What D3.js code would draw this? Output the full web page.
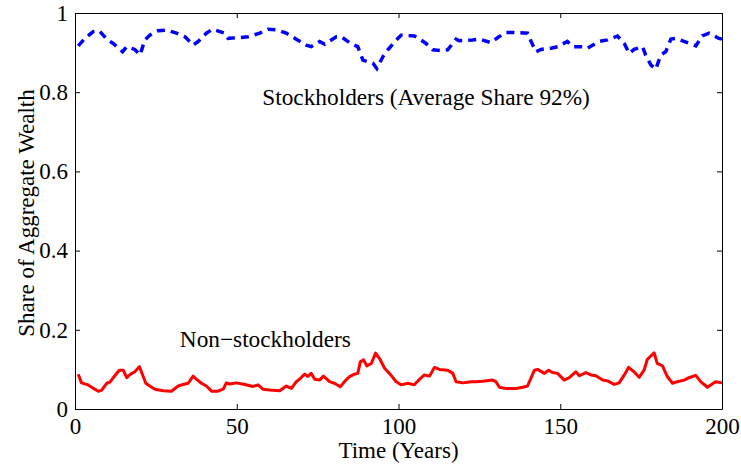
<!DOCTYPE html>
<html>
<head>
<meta charset="utf-8">
<script src="https://cdn.jsdelivr.net/npm/d3@7"></script>
<style>
  body { margin: 0; background: #fff; }
  svg { display: block; }
</style>
</head>
<body>
<div id="chart"></div>
<script>
// wealth shares

const stockYears = [1, 3.1, 5.6, 7.5, 9.8, 11.8, 14.7, 16, 18.5, 20.1, 21.6, 23.1, 25.7, 28.3, 31.4, 34, 36.5, 38.1, 40.6, 42.5,
  46.3, 47.3, 50.9, 53.5, 57.1, 59.7, 62.7, 65.3, 68.4, 71.5, 73, 75.6, 77.2, 80.8, 82.3, 85.4, 87.4, 89, 92.1, 93.3,
  95.2, 96.7, 99.3, 100.8, 104.9, 106, 108.5, 110.6, 113.2, 115.2, 117.8, 118.8, 122.9, 125, 128.6, 130.7, 133.2, 135.8, 139.9, 141,
  142.5, 144.1, 147.1, 149.2, 152.2, 153.8, 156.9, 158.4, 162, 164.6, 167.7, 169.8, 171.3, 172.8, 175.4, 176.4, 178, 179.5, 181.1, 182.6,
  184.2, 185.7, 189.3, 191.9, 193.9, 196, 199, 200];
const stockShares = [0.917, 0.936, 0.953, 0.955, 0.934, 0.923, 0.902, 0.915, 0.908, 0.894, 0.932, 0.944, 0.955, 0.957, 0.949, 0.940, 0.919, 0.928, 0.949, 0.959,
  0.949, 0.936, 0.938, 0.940, 0.949, 0.959, 0.957, 0.949, 0.934, 0.919, 0.915, 0.928, 0.921, 0.940, 0.940, 0.922, 0.915, 0.881, 0.873, 0.860,
  0.890, 0.907, 0.932, 0.944, 0.942, 0.937, 0.923, 0.907, 0.905, 0.907, 0.934, 0.930, 0.932, 0.934, 0.925, 0.938, 0.951, 0.951, 0.949, 0.928,
  0.902, 0.908, 0.911, 0.915, 0.928, 0.915, 0.915, 0.911, 0.928, 0.932, 0.942, 0.923, 0.898, 0.908, 0.915, 0.894, 0.869, 0.858, 0.894, 0.902,
  0.934, 0.936, 0.925, 0.917, 0.942, 0.949, 0.936, 0.934];

const nonYears = [1, 2, 4, 5.7, 7.2, 8.2, 9.8, 10.8, 12.3, 13.7, 14.9, 16, 17.2, 18.5, 19.9, 20.9, 21.9, 23.1, 24.7, 27.3,
  29.8, 31.9, 33.4, 35, 36.5, 37.6, 39.1, 40.6, 42.2, 44.2, 45.8, 46.8, 47.8, 49.9, 52.5, 55, 56.6, 58.1, 60.2, 63.3,
  65.3, 66.9, 68.4, 69.4, 71, 72, 73, 74.1, 75.6, 76.8, 78.7, 80.2, 82, 83.3, 84.9, 86.4, 87.4, 88.2, 89.2, 90.2,
  91.6, 92.9, 94.1, 95.7, 97.2, 99.3, 100.8, 102.9, 104.9, 106.5, 108, 109.6, 111.1, 112.7, 115.2, 116.8, 117.8, 119.9, 122.4, 124,
  126, 129.1, 130.1, 131.2, 133.2, 136.3, 138.4, 139.9, 142, 143, 145.1, 146.4, 147.6, 149.2, 151.2, 152.8, 154.8, 155.9, 157.9, 159.5,
  161, 163.1, 164.6, 166.7, 168.2, 169.8, 171.1, 172.8, 174.4, 175.9, 176.9, 178, 179, 180, 181.6, 183.1, 184.7, 186.2, 188.3, 189.8,
  191.9, 193.4, 195.5, 198, 200];
const nonShares = [0.088, 0.066, 0.061, 0.052, 0.045, 0.047, 0.065, 0.068, 0.084, 0.098, 0.098, 0.079, 0.088, 0.094, 0.107, 0.086, 0.065, 0.058, 0.050, 0.046,
  0.045, 0.058, 0.062, 0.065, 0.083, 0.075, 0.065, 0.058, 0.045, 0.045, 0.050, 0.066, 0.063, 0.066, 0.062, 0.057, 0.061, 0.050, 0.048, 0.046,
  0.058, 0.052, 0.069, 0.075, 0.088, 0.082, 0.090, 0.075, 0.073, 0.083, 0.069, 0.065, 0.056, 0.069, 0.082, 0.088, 0.090, 0.119, 0.124, 0.109,
  0.115, 0.141, 0.128, 0.103, 0.090, 0.069, 0.061, 0.065, 0.061, 0.075, 0.086, 0.083, 0.105, 0.100, 0.098, 0.090, 0.069, 0.066, 0.069, 0.069,
  0.070, 0.073, 0.069, 0.055, 0.052, 0.052, 0.055, 0.058, 0.098, 0.100, 0.090, 0.098, 0.092, 0.090, 0.073, 0.079, 0.094, 0.084, 0.092, 0.086,
  0.084, 0.073, 0.071, 0.062, 0.066, 0.086, 0.105, 0.094, 0.080, 0.098, 0.125, 0.134, 0.142, 0.115, 0.109, 0.082, 0.065, 0.069, 0.073, 0.079,
  0.085, 0.069, 0.055, 0.069, 0.066];

const xTicks = [0, 50, 100, 150, 200];
const yTicks = [0, 0.2, 0.4, 0.6, 0.8, 1];

const width = 741, height = 464;
const margin = { top: 13, right: 19, bottom: 55, left: 75 };
const font = "'Liberation Serif', 'Times New Roman', serif";
const fs = 23;

const svg = d3.select("#chart").append("svg")
  .attr("width", width)
  .attr("height", height)
  .attr("font-family", font);

const x = d3.scaleLinear().domain([0, 200]).range([margin.left, width - margin.right]);
const y = d3.scaleLinear().domain([0, 1]).range([height - margin.bottom, margin.top]);

// axes, ticks pointing inward on all four sides
function styleAxis(g) {
  g.selectAll("path.domain").attr("stroke", "#000").attr("stroke-width", 1);
  g.selectAll(".tick line").attr("stroke", "#000");
  g.selectAll(".tick text").attr("font-size", fs).attr("font-family", font).attr("fill", "#000");
}

svg.append("g")
  .attr("transform", `translate(0,${y(0)})`)
  .call(d3.axisBottom(x).tickValues(xTicks).tickSizeInner(-5).tickSizeOuter(0).tickPadding(9).tickFormat(d3.format("d")))
  .call(styleAxis);

svg.append("g")
  .attr("transform", `translate(0,${y(1)})`)
  .call(d3.axisTop(x).tickValues(xTicks).tickSizeInner(-5).tickSizeOuter(0).tickFormat(""))
  .call(styleAxis);

svg.append("g")
  .attr("transform", `translate(${x(0)},0)`)
  .call(d3.axisLeft(y).tickValues(yTicks).tickSizeInner(-5).tickSizeOuter(0).tickPadding(7).tickFormat(d3.format("~g")))
  .call(styleAxis);

svg.append("g")
  .attr("transform", `translate(${x(200)},0)`)
  .call(d3.axisRight(y).tickValues(yTicks).tickSizeInner(-5).tickSizeOuter(0).tickFormat(""))
  .call(styleAxis);

// lines
const line = d3.line().x(d => x(d[0])).y(d => y(d[1]));

svg.append("path")
  .datum(d3.zip(stockYears, stockShares))
  .attr("fill", "none")
  .attr("stroke", "#0000ff")
  .attr("stroke-width", 3.5)
  .attr("stroke-dasharray", "8,6")
  .attr("d", line);

svg.append("path")
  .datum(d3.zip(nonYears, nonShares))
  .attr("fill", "none")
  .attr("stroke", "#ff0000")
  .attr("stroke-width", 3)
  .attr("stroke-linejoin", "round")
  .attr("d", line);

// annotations
svg.append("text")
  .attr("x", x(57.9))
  .attr("y", y(0.768))
  .attr("font-size", 23.3)
  .text("Stockholders (Average Share 92%)");

svg.append("text")
  .attr("x", x(32.4))
  .attr("y", y(0.157))
  .attr("font-size", 23.3)
  .text("Non\u2212stockholders");

// axis labels
svg.append("text")
  .attr("x", x(100))
  .attr("y", 457.5)
  .attr("text-anchor", "middle")
  .attr("font-size", fs)
  .text("Time (Years)");

svg.append("text")
  .attr("transform", `translate(34,213) rotate(-90)`)
  .attr("text-anchor", "middle")
  .attr("font-size", fs)
  .text("Share of Aggregate Wealth");
</script>
</body>
</html>
